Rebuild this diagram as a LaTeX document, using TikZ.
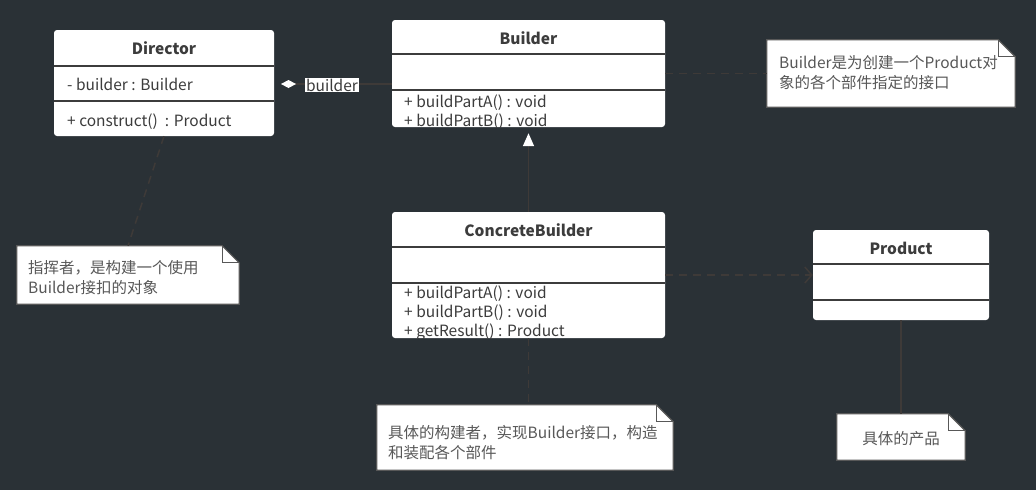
\documentclass[tikz,border=0pt]{standalone}
\usepackage{fontspec}
\setmainfont{Noto Sans CJK SC}
\usetikzlibrary{arrows.meta, positioning}
\definecolor{bg}{RGB}{42,49,54}
\definecolor{wire}{RGB}{62,58,56}
\definecolor{ink}{RGB}{60,60,60}
\definecolor{notegray}{RGB}{88,88,88}
\tikzstyle{umlclass} = [fill=white, rounded corners=3pt, inner sep=0pt]
\tikzstyle{classname} = [inner sep=0pt, anchor=base, text=ink, font=\fontsize{15.5}{18}\selectfont\bfseries]
\tikzstyle{member} = [inner sep=0pt, anchor=base west, text=ink, font=\fontsize{15.5}{18}\selectfont]
\tikzstyle{divider} = [draw=ink, line width=1.8pt]
\tikzstyle{notebox} = [fill=white, inner sep=0pt]
\tikzstyle{notetext} = [inner sep=0pt, anchor=base west, text=notegray, font=\fontsize{15.5}{18}\selectfont]
\tikzstyle{noteline} = [draw=notegray, line width=1.2pt]
\tikzstyle{dashline} = [draw=wire, line width=1.5pt, dash pattern=on 8pt off 6pt]
\tikzstyle{solidline} = [draw=wire, line width=1.5pt]

\begin{document}
\begin{tikzpicture}[x=1pt, y=-1pt]
	\fill [bg] (0, 0) rectangle (1036, 490);
	\useasboundingbox (0, 0) rectangle (1036, 490);

	% classes
	\node (Director) [umlclass, minimum width=220pt, minimum height=106pt] at (164, 83) {};
	\node (Builder) [umlclass, minimum width=273pt, minimum height=107pt] at (528.5, 73.5) {};
	\node (Concrete) [umlclass, minimum width=273pt, minimum height=126pt] at (528.5, 275) {};
	\node (Product) [umlclass, minimum width=176pt, minimum height=90pt] at (901, 275) {};

	\draw [divider] ([yshift=-36pt]Director.north west) -- ([yshift=-36pt]Director.north east);
	\draw [divider] ([yshift=-71pt]Director.north west) -- ([yshift=-71pt]Director.north east);
	\draw [divider] ([yshift=-34pt]Builder.north west) -- ([yshift=-34pt]Builder.north east);
	\draw [divider] ([yshift=-70pt]Builder.north west) -- ([yshift=-70pt]Builder.north east);
	\draw [divider] ([yshift=-35pt]Concrete.north west) -- ([yshift=-35pt]Concrete.north east);
	\draw [divider] ([yshift=-71pt]Concrete.north west) -- ([yshift=-71pt]Concrete.north east);
	\draw [divider] ([yshift=-34pt]Product.north west) -- ([yshift=-34pt]Product.north east);
	\draw [divider] ([yshift=-70pt]Product.north west) -- ([yshift=-70pt]Product.north east);

	\node (DirectorName) [classname] at (164, 54) {Director};
	\node (BuilderName) [classname] at (528.5, 44) {Builder};
	\node (ConcreteName) [classname] at (528.5, 236) {ConcreteBuilder};
	\node (ProductName) [classname] at (901, 254) {Product};

	\node (DirectorAttr) [member] at (67, 90) {- builder : Builder};
	\node (DirectorOp) [member] at (67, 126) {+ construct()\ \ : Product};

	\begin{scope}
		\clip [rounded corners=3pt] (Builder.north west) rectangle (Builder.south east);
		\node (BuilderOpA) [member] at (404, 107) {+ buildPartA() : void};
		\node (BuilderOpB) [member] at (404, 126) {+ buildPartB() : void};
	\end{scope}
	\begin{scope}
		\clip [rounded corners=3pt] (Concrete.north west) rectangle (Concrete.south east);
		\node (ConcreteOpA) [member] at (404, 298) {+ buildPartA() : void};
		\node (ConcreteOpB) [member] at (404, 317) {+ buildPartB() : void};
		\node (ConcreteOpC) [member] at (404, 336) {+ getResult() : Product};
	\end{scope}

	% notes
	\node (NoteDirector) [notebox, minimum width=222pt, minimum height=58pt] at (128, 275) {};
	\node (NoteBuilder) [notebox, minimum width=248pt, minimum height=67pt] at (891, 73.5) {};
	\node (NoteConcrete) [notebox, minimum width=296pt, minimum height=65pt] at (525, 437.5) {};
	\node (NoteProduct) [notebox, minimum width=128pt, minimum height=46pt] at (901, 437) {};

	\foreach \n in {NoteDirector, NoteBuilder, NoteConcrete, NoteProduct} {
		\fill [bg] ([xshift=-17pt]\n.north east) -- (\n.north east) -- ([yshift=-17pt]\n.north east) -- cycle;
		\draw [noteline] (\n.north west) -- ([xshift=-17pt]\n.north east) -- ([yshift=-17pt]\n.north east)
			-- (\n.south east) -- (\n.south west) -- cycle;
		\draw [noteline] ([xshift=-17pt]\n.north east) |- ([yshift=-17pt]\n.north east);
	}

	\node (NoteDirectorA) [notetext] at (28, 273.5) {指挥者，是构建一个使用};
	\node (NoteDirectorB) [notetext] at (28, 293.5) {Builder接扣的对象};
	\node (NoteBuilderA) [notetext] at (779, 68) {Builder是为创建一个Product对};
	\node (NoteBuilderB) [notetext] at (779, 88) {象的各个部件指定的接口};
	\node (NoteConcreteA) [notetext] at (388, 438) {具体的构建者，实现Builder接口，构造};
	\node (NoteConcreteB) [notetext] at (388, 458) {和装配各个部件};
	\node (NoteProductA) [notetext, anchor=base] at (901, 444) {具体的产品};

	% connectors
	\coordinate (AggEnd) at (281, 84);
	\draw [solidline, {Diamond[white, length=15pt, width=8pt]}-] (AggEnd) -- (AggEnd -| Builder.west);
	\node (AggLabel) [fill=white, inner sep=1pt, text=ink, font=\fontsize{15.5}{18}\selectfont] at (332, 85) {builder};

	\draw [solidline, -{Triangle[white, length=13pt, width=11pt]}, shorten >=6pt] (Concrete.north) -- (Builder.south);
	\draw [dashline, -{Straight Barb[length=7pt, width=16pt]}] (Concrete.east) -- (Product.west);

	\draw [dashline] (Builder.east) -- (NoteBuilder.west);
	\draw [dashline] (Director.south) -- (NoteDirector.north);
	\draw [dashline] (Concrete.south) -- (Concrete.south |- NoteConcrete.north);
	\draw [solidline] (Product.south) -- (NoteProduct.north);

\end{tikzpicture}
\end{document}
